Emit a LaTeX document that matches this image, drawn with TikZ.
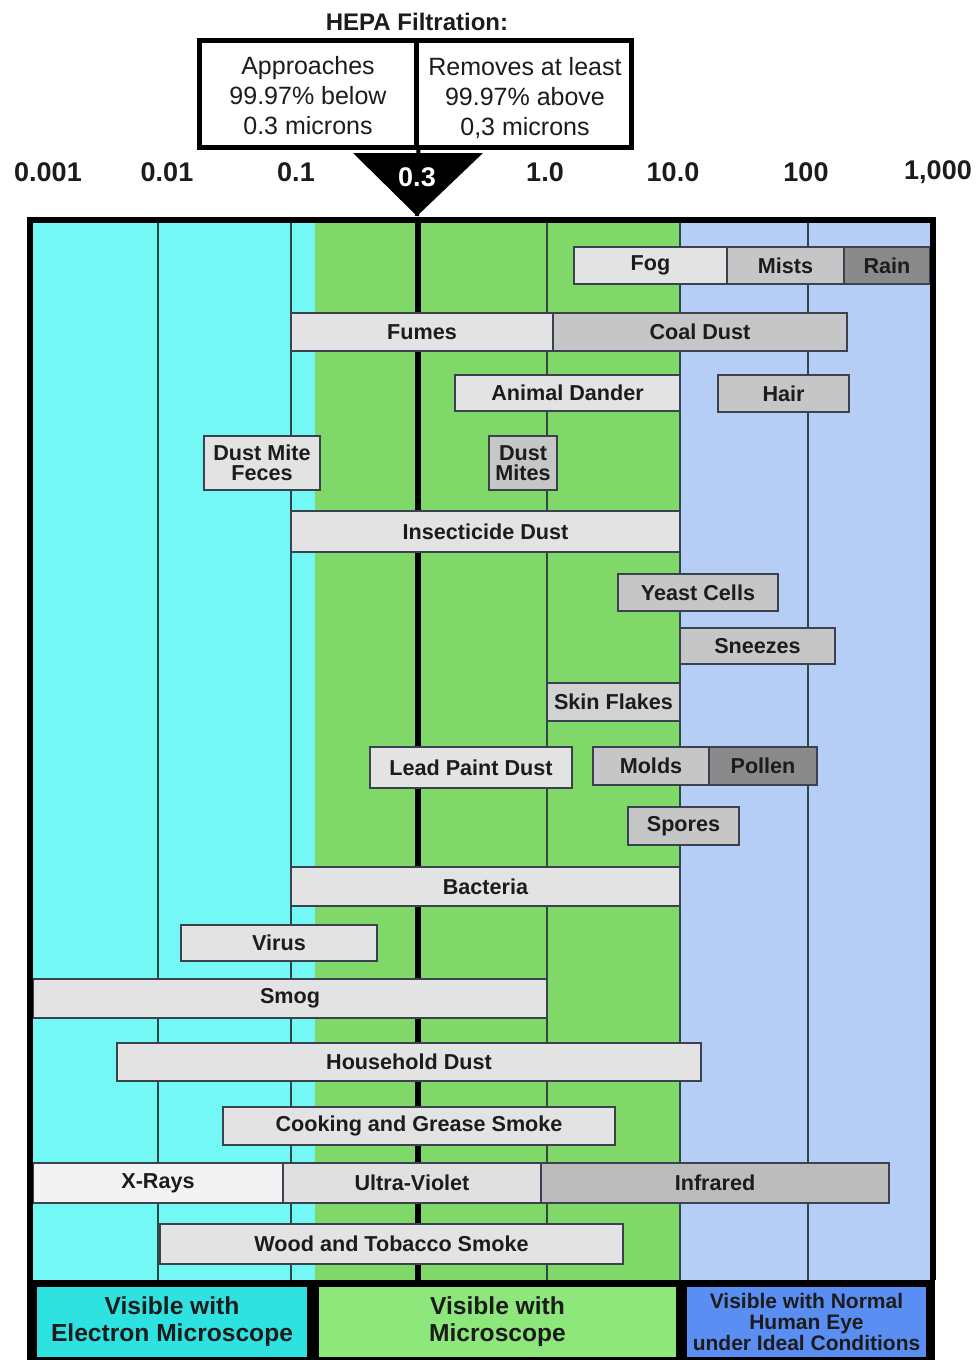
\documentclass[tikz,border=0pt]{standalone}
\usepackage{fontspec}
\setmainfont{Liberation Sans}
\usepackage{tikz}
\definecolor{electroncyan}{HTML}{74F8F6}
\definecolor{scopegreen}{HTML}{80D868}
\definecolor{eyeblue}{HTML}{B6CEF6}
\definecolor{legcyan}{HTML}{2EE2E2}
\definecolor{leggreen}{HTML}{8DE77A}
\definecolor{legblue}{HTML}{5B8EF2}
\definecolor{barpale}{HTML}{F3F3F3}
\definecolor{barlight}{HTML}{E3E3E3}
\definecolor{barmid}{HTML}{C6C6C6}
\definecolor{bardark}{HTML}{8A8A8A}
\definecolor{boxline}{HTML}{3A4250}
\definecolor{gridline}{HTML}{2E4848}
\definecolor{ink}{HTML}{1C1C1C}
\tikzstyle{bar} = [rectangle, draw=boxline, line width=0.9pt, inner sep=0pt,
    text=ink, align=center, font=\bfseries\fontsize{10.8}{10}\selectfont]
\tikzstyle{fairbar} = [bar, fill=barlight]
\tikzstyle{midbar} = [bar, fill=barmid]
\tikzstyle{darkbar} = [bar, fill=bardark]
\tikzstyle{axislabel} = [text=ink, font=\bfseries\fontsize{13.5}{13.5}\selectfont]
\tikzstyle{hepabox} = [rectangle, draw, line width=2.5pt, inner sep=0pt, fill=white]
\tikzstyle{hepatext} = [text=ink, align=center, font=\fontsize{12.5}{15}\selectfont]
\tikzstyle{legend} = [rectangle, inner sep=0pt, text=ink, align=center,
    font=\bfseries\fontsize{12.3}{13.5}\selectfont]
\tikzstyle{grid} = [draw=gridline, line width=0.7pt]
\newcommand{\sizebar}[7]{\node[#1, minimum width={(#4-#3)*0.5pt},
    minimum height={(#6-#5)*0.5pt}] (#2) at ({(#3+#4)/2},{(#5+#6)/2}) {#7};}
\begin{document}
\begin{tikzpicture}[x=0.5pt, y=-0.5pt]
    \useasboundingbox (0,0) rectangle (977,1360);
    % Size ranges seen by eye, microscope and electron microscope
    \fill[electroncyan] (30,220) rectangle (315,1280);
    \fill[scopegreen] (315,220) rectangle (680,1280);
    \fill[eyeblue] (680,220) rectangle (932,1280);
    \foreach \xpos in {158,291,547,680,808}
        \draw[grid] (\xpos,223) -- (\xpos,1280);
    \draw[line width=3pt] (417.5,220) -- (417.5,1280);
    % Scale
    \foreach \val/\xpos [count=\i] in {0.001/48, 0.01/167, 0.1/296, 1.0/545,
        10.0/673, 100/806, {1,000}/938}
        \node[axislabel] (tick\i) at (\xpos,172) {\val};
    % HEPA filter box
    \node[font=\bfseries\fontsize{12}{12}\selectfont, text=ink] (title) at (417,22) {HEPA Filtration:};
    \sizebar{hepabox}{below}{199}{416}{40}{147}{}
    \sizebar{hepabox}{above}{416}{631}{40}{147}{}
    \node[hepatext] (belowtext) at (308,96) {Approaches\\99.97\% below\\0.3 microns};
    \node[hepatext] (abovetext) at (525,98) {Removes at least\\99.97\% above\\0,3 microns};
    \coordinate (apex) at (417,216);
    \fill (353,153) -- (483,153) -- (apex) -- cycle;
    \draw[line width=2pt] (below.south east) -- (apex);
    \node[axislabel, text=white] (cut) at (417,177) {0.3};
    % Particles
    \sizebar{fairbar}{fog}{574}{727}{247}{284}{Fog}
    \sizebar{midbar}{mists}{727}{844}{247}{284}{Mists}
    \sizebar{darkbar}{rain}{844}{930}{247}{284}{Rain}
    \sizebar{fairbar}{fumes}{291}{553}{313}{351}{Fumes}
    \sizebar{midbar}{coaldust}{553}{847}{313}{351}{Coal Dust}
    \sizebar{fairbar}{dander}{455}{680}{375}{411}{Animal Dander}
    \sizebar{midbar}{hair}{718}{849}{375}{412}{Hair}
    \sizebar{fairbar}{feces}{204}{320}{436}{490}{Dust Mite\\Feces}
    \sizebar{midbar}{mites}{489}{557}{436}{490}{Dust\\Mites}
    \sizebar{fairbar}{insecticide}{291}{680}{511}{552}{Insecticide Dust}
    \sizebar{midbar}{yeast}{618}{778}{574}{611}{Yeast Cells}
    \sizebar{midbar}{sneezes}{680}{835}{628}{664}{Sneezes}
    \sizebar{midbar, fill=barmid!60!barlight}{skin}{547}{680}{683}{721}{Skin Flakes}
    \sizebar{fairbar}{leadpaint}{370}{572}{747}{788}{Lead Paint Dust}
    \sizebar{midbar}{molds}{593}{709}{747}{785}{Molds}
    \sizebar{darkbar}{pollen}{709}{817}{747}{785}{Pollen}
    \sizebar{midbar}{spores}{628}{739}{807}{845}{Spores}
    \sizebar{fairbar}{bacteria}{291}{680}{867}{906}{Bacteria}
    \sizebar{fairbar}{virus}{181}{377}{925}{961}{Virus}
    \sizebar{fairbar}{smog}{33}{547}{979}{1018}{Smog}
    \sizebar{fairbar}{household}{117}{701}{1043}{1081}{Household Dust}
    \sizebar{fairbar}{cooking}{223}{615}{1107}{1145}{Cooking and Grease Smoke}
    \sizebar{bar, fill=barpale}{xrays}{33}{283}{1163}{1203}{X-Rays}
    \sizebar{bar, fill=barlight!90!barmid}{uv}{283}{541}{1163}{1203}{Ultra-Violet}
    \sizebar{bar, fill=barmid!95!black}{infrared}{541}{889}{1163}{1203}{Infrared}
    \sizebar{fairbar}{smoke}{160}{623}{1224}{1264}{Wood and Tobacco Smoke}
    % Frame and legend
    \draw[line width=3pt] (30,1280) -- (30,220) -- (932.5,220) -- (932.5,1280);
    \fill (27,1280) rectangle (935,1360);
    \sizebar{legend, fill=legcyan}{electron}{37}{307}{1287}{1357}{Visible with\\Electron Microscope}
    \sizebar{legend, fill=leggreen}{microscope}{319}{676}{1287}{1357}{Visible with\\Microscope}
    \sizebar{legend, fill=legblue, font=\bfseries\fontsize{10.5}{10.5}\selectfont}{eye}{687}{926}{1287}{1357}{Visible with Normal\\Human Eye\\under Ideal Conditions}
\end{tikzpicture}
\end{document}
